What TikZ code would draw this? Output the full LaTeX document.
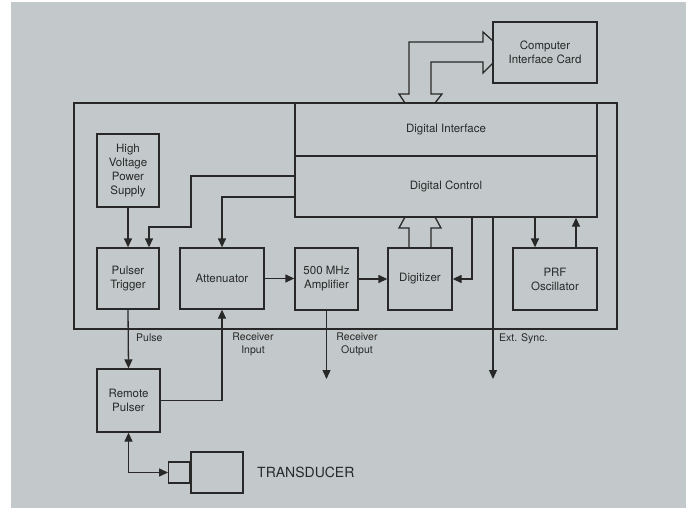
\documentclass[tikz,border=0pt]{standalone}
\usepackage{fontspec}
\setmainfont{TeX Gyre Heros}
\usetikzlibrary{arrows.meta}
\definecolor{paper}{RGB}{195,201,202}
\definecolor{ink}{RGB}{40,40,40}
\tikzset{
  blk/.style={draw=ink,line width=1.3pt,align=center,text=ink,inner sep=0pt,
    font=\fontsize{11.5}{14}\selectfont},
  arr/.style={draw=ink,line width=1.3pt,-{Triangle[length=9pt,width=8pt]}},
  arrtwo/.style={draw=ink,line width=1.3pt,{Triangle[length=9pt,width=8pt]}-{Triangle[length=9pt,width=8pt]}},
  bus/.style={draw=ink,line width=1.3pt,line join=miter},
  lbl/.style={text=ink,align=center,inner sep=0pt,font=\fontsize{10.5}{13}\selectfont}
}
\begin{document}
\begin{tikzpicture}[x=1pt,y=-1pt]
\useasboundingbox (0,0) rectangle (693,508);
\fill[paper] (11,2) rectangle (686,508);
\draw[ink,line width=2.2pt] (74,103) rectangle (617,329);
\node[blk,minimum width=302,minimum height=53] (di) at (446,129.5) {\raisebox{-4pt}{Digital Interface}};
\node[blk,minimum width=302,minimum height=61] (dc) at (446,186.5) {Digital Control};
\node[blk,minimum width=104,minimum height=61] (cic) at (545,52.5) {Computer\\Interface Card};
\node[blk,minimum width=62,minimum height=73] (hv) at (128,170.5) {High\\Voltage\\Power\\Supply};
\node[blk,minimum width=62,minimum height=61] (pt) at (128,278.5) {Pulser\\Trigger};
\node[blk,minimum width=84,minimum height=61] (att) at (222,278.5) {Attenuator};
\node[blk,minimum width=63,minimum height=62] (amp) at (326.5,279) {500 MHz\\Amplifier};
\node[blk,minimum width=64,minimum height=62] (dig) at (420,279) {Digitizer};
\node[blk,minimum width=84,minimum height=62] (prf) at (555,279) {PRF\\Oscillator};
\node[blk,minimum width=63,minimum height=63] (rp) at (128.5,400.5) {Remote\\Pulser};
\node[blk,minimum width=52,minimum height=41] (td) at (217,472.5) {};
\node[blk,minimum width=21,minimum height=21,anchor=east] (tdtip) at (td.west) {};
\node[lbl,anchor=west,font=\fontsize{14}{16}\selectfont] (tdname) at (257,472) {TRANSDUCER};
\coordinate (rxout) at (326.5,379);
\coordinate (sync) at (493,379);
\draw[bus] (405,103) -- (399,94) -- (409,94) -- (409,42) -- (483,42) -- (483,32) -- (493,41);
\draw[bus] (493,63) -- (483,73) -- (483,62) -- (431,62) -- (431,94) -- (442,94) -- (435,103);
\draw[bus] (409,248) -- (409,228) -- (399,228) -- (405,217);
\draw[bus] (431,248) -- (431,228) -- (441,228) -- (435,217);
\draw[arr] (hv.south) -- (pt.north);
\draw[arr] ([yshift=10.5pt]dc.west) -- (191,176) -- (191,227) -- (149,227) -- ([xshift=21pt]pt.north);
\draw[arr] ([yshift=-10.5pt]dc.west) -| (att.north);
\draw[arr] (att.east) -- (att.east -| amp.west);
\draw[arr] (amp.east) -- (amp.east -| dig.west);
\draw[arr] ([xshift=26pt]dc.south) |- (dig.east);
\draw[arr] ([xshift=89pt]dc.south) -- ([xshift=-20pt]prf.north);
\draw[arr] ([xshift=21pt]prf.north) -- ([xshift=130pt]dc.south);
\draw[arr] ([xshift=47pt]dc.south) -- (sync);
\draw[arr] (pt.south) -- (rp.north);
\draw[arr] (rp.east) -| (att.south);
\draw[arr] (amp.south) -- (rxout);
\draw[arrtwo] (rp.south) |- (tdtip.west);
\node[lbl,anchor=west] (pulse) at (136,338) {Pulse};
\node[lbl] (rxin) at (253,344.5) {Receiver\\Input};
\node[lbl] (rxo) at (357,344.5) {Receiver\\Output};
\node[lbl,anchor=west] (ext) at (499,339) {Ext. Sync.};
\end{tikzpicture}
\end{document}
